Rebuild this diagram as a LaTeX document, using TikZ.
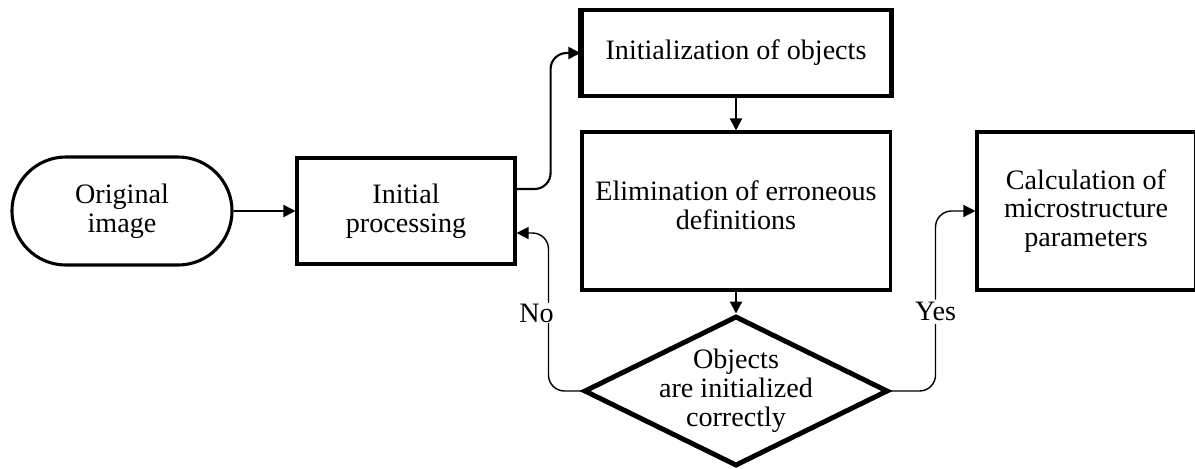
\documentclass[tikz,border=0pt]{standalone}
\usepackage{fontspec}
\setmainfont{Liberation Serif}
\usetikzlibrary{shapes.geometric, arrows.meta, positioning, calc}

\tikzset{
  block/.style={draw, line width=2.2pt, rectangle, align=center},
  term/.style={draw, line width=2.2pt, rectangle, rounded corners=1.35cm, align=center},
  decision/.style={draw, line width=3.5pt, diamond, inner sep=0pt},
  arr/.style={line width=1.5pt, -{Triangle[length=0.3cm, width=0.3cm]}},
  thinarr/.style={line width=1pt, -{Triangle[length=0.3cm, width=0.3cm]}},
  lbl/.style={fill=white, inner sep=2pt}
}

\begin{document}
\begin{tikzpicture}[x=0.025cm, y=-0.025cm, every node/.style={font=\fontsize{20}{20.5}\selectfont}]
        \useasboundingbox (0,0) rectangle (1195,468);
        % Blocks
        \node[term, minimum width=5.5cm, minimum height=2.7cm] (orig) at (122,211) {Original\\image};
        \node[block, minimum width=5.45cm, minimum height=2.65cm] (init) at (406,211) {Initial\\processing};
        \node[block, minimum width=7.7cm, minimum height=2.15cm] (initobj) at (736,53) {Initialization of objects};
        \node[block, minimum width=7.7cm, minimum height=3.95cm] (elim) at (736,211) {};
        \node[align=center] (elimtext) at (736,205) {Elimination of erroneous\\definitions};
        \node[decision, minimum width=7.6cm, minimum height=3.75cm] (check) at (736,391) {};
        \node[align=center] (checktext) at (736,391) {Objects\\are initialized\\correctly};
        \node[block, minimum width=5.45cm, minimum height=3.95cm] (calc) at (1086,211) {Calculation of\\microstructure\\parameters};

        % Thicker sides of the top block
        \draw[line width=4pt] (initobj.north west) -- (initobj.south west);
        \draw[line width=4pt] (initobj.north east) -- (initobj.south east);

        % Connectors
        \draw[arr] (orig) -- (init);
        \draw[arr, rounded corners=0.4cm] ([yshift=0.55cm]init.east) -- ++(0.85cm,0) |- (initobj.west);
        \draw[arr] (initobj) -- (elim);
        \draw[arr] (elim) -- (check);

        % Decision outputs
        \draw[thinarr, rounded corners=0.4cm] (check.west) -- ++(-0.825cm,0) |- node[pos=0.247, lbl, xshift=-0.3cm] (no) {No} ([yshift=-0.55cm]init.east);
        \draw[thinarr, rounded corners=0.4cm] (check.east) -- ++(1.125cm,0) |- node[pos=0.22, lbl] (yes) {Yes} (calc.west);
    \end{tikzpicture}
\end{document}
